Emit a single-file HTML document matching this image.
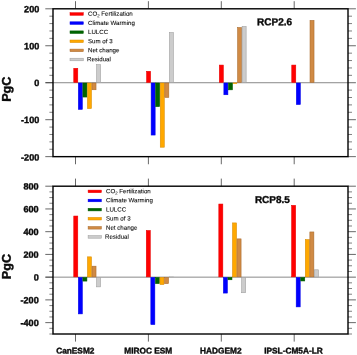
<!DOCTYPE html>
<html><head><meta charset="utf-8"><title>chart</title>
<style>
html,body{margin:0;padding:0;background:#fff;}
svg{display:block;will-change:transform;opacity:0.999;font-family:"Liberation Sans",sans-serif;}
text{fill:#0a0a0a;}
.b{stroke:#0a0a0a;stroke-width:0.38;}
.l{stroke:#0a0a0a;stroke-width:0.08;}
.b2{stroke:#0a0a0a;stroke-width:0.45;}
</style></head>
<body>
<svg width="357" height="355" viewBox="0 0 357 355">
<rect width="357" height="355" fill="#fff"/>
<line x1="45.5" x2="348.0" y1="82.72" y2="82.72" stroke="#747474" stroke-width="0.85"/>
<rect x="73.77" y="68.28" width="4.02" height="14.17" fill="#ff0000" stroke="#e80000" stroke-width="0.55"/>
<rect x="78.33" y="82.99" width="4.02" height="26.41" fill="#0000ff" stroke="#0000e8" stroke-width="0.55"/>
<rect x="82.89" y="82.99" width="4.02" height="14.06" fill="#006400" stroke="#005a00" stroke-width="0.55"/>
<rect x="87.45" y="82.99" width="4.02" height="25.59" fill="#ffa800" stroke="#d88a00" stroke-width="0.55"/>
<rect x="92.01" y="82.99" width="4.02" height="6.78" fill="#d08a44" stroke="#a86a2c" stroke-width="0.55"/>
<rect x="96.57" y="64.66" width="4.02" height="17.79" fill="#cccccc" stroke="#9c9c9c" stroke-width="0.55"/>
<rect x="146.57" y="71.28" width="4.02" height="11.18" fill="#ff0000" stroke="#e80000" stroke-width="0.55"/>
<rect x="151.13" y="82.99" width="4.02" height="52.06" fill="#0000ff" stroke="#0000e8" stroke-width="0.55"/>
<rect x="155.69" y="82.99" width="4.02" height="23.67" fill="#006400" stroke="#005a00" stroke-width="0.55"/>
<rect x="160.25" y="82.99" width="4.02" height="64.22" fill="#ffa800" stroke="#d88a00" stroke-width="0.55"/>
<rect x="164.81" y="82.99" width="4.02" height="14.43" fill="#d08a44" stroke="#a86a2c" stroke-width="0.55"/>
<rect x="169.37" y="32.58" width="4.02" height="49.88" fill="#cccccc" stroke="#9c9c9c" stroke-width="0.55"/>
<rect x="219.32" y="65.07" width="4.02" height="17.39" fill="#ff0000" stroke="#e80000" stroke-width="0.55"/>
<rect x="223.88" y="82.99" width="4.02" height="11.77" fill="#0000ff" stroke="#0000e8" stroke-width="0.55"/>
<rect x="228.44" y="82.99" width="4.02" height="6.85" fill="#006400" stroke="#005a00" stroke-width="0.55"/>
<rect x="233.00" y="82.72" width="4.02" height="1.11" fill="#ffa800" stroke="#d88a00" stroke-width="0.2"/>
<rect x="237.56" y="27.48" width="4.02" height="54.98" fill="#d08a44" stroke="#a86a2c" stroke-width="0.55"/>
<rect x="242.12" y="26.48" width="4.02" height="55.98" fill="#cccccc" stroke="#9c9c9c" stroke-width="0.55"/>
<rect x="291.77" y="65.07" width="4.02" height="17.39" fill="#ff0000" stroke="#e80000" stroke-width="0.55"/>
<rect x="296.33" y="82.99" width="4.02" height="21.56" fill="#0000ff" stroke="#0000e8" stroke-width="0.55"/>
<rect x="310.01" y="20.38" width="4.02" height="62.07" fill="#d08a44" stroke="#a86a2c" stroke-width="0.55"/>
<line x1="45.3" x2="53.0" y1="8.80" y2="8.80" stroke="#000" stroke-width="0.6"/>
<line x1="348.0" x2="355.9" y1="8.80" y2="8.80" stroke="#000" stroke-width="0.6"/>
<text x="39.30" y="12.20" transform="rotate(0.03 39.30 12.20)" font-size="9.1" font-weight="bold" text-anchor="end" class="b">200</text>
<line x1="49.4" x2="53.0" y1="16.19" y2="16.19" stroke="#000" stroke-width="0.5"/>
<line x1="348.0" x2="352" y1="16.19" y2="16.19" stroke="#000" stroke-width="0.5"/>
<line x1="49.4" x2="53.0" y1="23.59" y2="23.59" stroke="#000" stroke-width="0.5"/>
<line x1="348.0" x2="352" y1="23.59" y2="23.59" stroke="#000" stroke-width="0.5"/>
<line x1="49.4" x2="53.0" y1="30.98" y2="30.98" stroke="#000" stroke-width="0.5"/>
<line x1="348.0" x2="352" y1="30.98" y2="30.98" stroke="#000" stroke-width="0.5"/>
<line x1="49.4" x2="53.0" y1="38.37" y2="38.37" stroke="#000" stroke-width="0.5"/>
<line x1="348.0" x2="352" y1="38.37" y2="38.37" stroke="#000" stroke-width="0.5"/>
<line x1="45.3" x2="53.0" y1="45.76" y2="45.76" stroke="#000" stroke-width="0.6"/>
<line x1="348.0" x2="355.9" y1="45.76" y2="45.76" stroke="#000" stroke-width="0.6"/>
<text x="39.30" y="49.16" transform="rotate(0.03 39.30 49.16)" font-size="9.1" font-weight="bold" text-anchor="end" class="b">100</text>
<line x1="49.4" x2="53.0" y1="53.16" y2="53.16" stroke="#000" stroke-width="0.5"/>
<line x1="348.0" x2="352" y1="53.16" y2="53.16" stroke="#000" stroke-width="0.5"/>
<line x1="49.4" x2="53.0" y1="60.55" y2="60.55" stroke="#000" stroke-width="0.5"/>
<line x1="348.0" x2="352" y1="60.55" y2="60.55" stroke="#000" stroke-width="0.5"/>
<line x1="49.4" x2="53.0" y1="67.94" y2="67.94" stroke="#000" stroke-width="0.5"/>
<line x1="348.0" x2="352" y1="67.94" y2="67.94" stroke="#000" stroke-width="0.5"/>
<line x1="49.4" x2="53.0" y1="75.33" y2="75.33" stroke="#000" stroke-width="0.5"/>
<line x1="348.0" x2="352" y1="75.33" y2="75.33" stroke="#000" stroke-width="0.5"/>
<line x1="45.3" x2="53.0" y1="82.72" y2="82.72" stroke="#000" stroke-width="0.6"/>
<line x1="348.0" x2="355.9" y1="82.72" y2="82.72" stroke="#000" stroke-width="0.6"/>
<text x="39.30" y="86.12" transform="rotate(0.03 39.30 86.12)" font-size="9.1" font-weight="bold" text-anchor="end" class="b">0</text>
<line x1="49.4" x2="53.0" y1="90.12" y2="90.12" stroke="#000" stroke-width="0.5"/>
<line x1="348.0" x2="352" y1="90.12" y2="90.12" stroke="#000" stroke-width="0.5"/>
<line x1="49.4" x2="53.0" y1="97.51" y2="97.51" stroke="#000" stroke-width="0.5"/>
<line x1="348.0" x2="352" y1="97.51" y2="97.51" stroke="#000" stroke-width="0.5"/>
<line x1="49.4" x2="53.0" y1="104.90" y2="104.90" stroke="#000" stroke-width="0.5"/>
<line x1="348.0" x2="352" y1="104.90" y2="104.90" stroke="#000" stroke-width="0.5"/>
<line x1="49.4" x2="53.0" y1="112.29" y2="112.29" stroke="#000" stroke-width="0.5"/>
<line x1="348.0" x2="352" y1="112.29" y2="112.29" stroke="#000" stroke-width="0.5"/>
<line x1="45.3" x2="53.0" y1="119.69" y2="119.69" stroke="#000" stroke-width="0.6"/>
<line x1="348.0" x2="355.9" y1="119.69" y2="119.69" stroke="#000" stroke-width="0.6"/>
<text x="39.30" y="123.09" transform="rotate(0.03 39.30 123.09)" font-size="9.1" font-weight="bold" text-anchor="end" class="b">-100</text>
<line x1="49.4" x2="53.0" y1="127.08" y2="127.08" stroke="#000" stroke-width="0.5"/>
<line x1="348.0" x2="352" y1="127.08" y2="127.08" stroke="#000" stroke-width="0.5"/>
<line x1="49.4" x2="53.0" y1="134.47" y2="134.47" stroke="#000" stroke-width="0.5"/>
<line x1="348.0" x2="352" y1="134.47" y2="134.47" stroke="#000" stroke-width="0.5"/>
<line x1="49.4" x2="53.0" y1="141.87" y2="141.87" stroke="#000" stroke-width="0.5"/>
<line x1="348.0" x2="352" y1="141.87" y2="141.87" stroke="#000" stroke-width="0.5"/>
<line x1="49.4" x2="53.0" y1="149.26" y2="149.26" stroke="#000" stroke-width="0.5"/>
<line x1="348.0" x2="352" y1="149.26" y2="149.26" stroke="#000" stroke-width="0.5"/>
<line x1="45.3" x2="53.0" y1="156.65" y2="156.65" stroke="#000" stroke-width="0.6"/>
<line x1="348.0" x2="355.9" y1="156.65" y2="156.65" stroke="#000" stroke-width="0.6"/>
<text x="39.30" y="160.45" transform="rotate(0.03 39.30 160.45)" font-size="9.1" font-weight="bold" text-anchor="end" class="b">-200</text>
<line x1="75.5" x2="75.5" y1="1.20" y2="8.80" stroke="#000" stroke-width="0.6"/>
<line x1="75.5" x2="75.5" y1="156.65" y2="164.25" stroke="#000" stroke-width="0.6"/>
<line x1="148.4" x2="148.4" y1="1.20" y2="8.80" stroke="#000" stroke-width="0.6"/>
<line x1="148.4" x2="148.4" y1="156.65" y2="164.25" stroke="#000" stroke-width="0.6"/>
<line x1="221.3" x2="221.3" y1="1.20" y2="8.80" stroke="#000" stroke-width="0.6"/>
<line x1="221.3" x2="221.3" y1="156.65" y2="164.25" stroke="#000" stroke-width="0.6"/>
<line x1="294.2" x2="294.2" y1="1.20" y2="8.80" stroke="#000" stroke-width="0.6"/>
<line x1="294.2" x2="294.2" y1="156.65" y2="164.25" stroke="#000" stroke-width="0.6"/>
<rect x="53.0" y="8.8" width="295.0" height="147.85" fill="none" stroke="#000" stroke-width="1.4"/>
<text x="257.10" y="25.35" transform="rotate(0.03 257.10 25.35)" font-size="10" font-weight="bold" class="b">RCP2.6</text>
<rect x="70.0" y="12.70" width="13.3" height="2.6" fill="#ff0000" stroke="#e80000" stroke-width="0.5"/>
<text x="88.00" y="15.85" transform="rotate(0.03 88.00 15.85)" font-size="6.15" class="l">CO<tspan font-size="4.3" dy="1.3">2</tspan><tspan dy="-1.3"> Fertilization</tspan></text>
<rect x="70.0" y="21.80" width="13.3" height="2.6" fill="#0000ff" stroke="#0000e8" stroke-width="0.5"/>
<text x="88.00" y="24.95" transform="rotate(0.03 88.00 24.95)" font-size="6.15" class="l">Climate Warming</text>
<rect x="70.0" y="30.90" width="13.3" height="2.6" fill="#006400" stroke="#005a00" stroke-width="0.5"/>
<text x="88.00" y="34.05" transform="rotate(0.03 88.00 34.05)" font-size="6.15" class="l">LULCC</text>
<rect x="70.0" y="40.00" width="13.3" height="2.6" fill="#ffa800" stroke="#d88a00" stroke-width="0.5"/>
<text x="88.00" y="43.15" transform="rotate(0.03 88.00 43.15)" font-size="6.15" class="l">Sum of 3</text>
<rect x="70.0" y="49.10" width="13.3" height="2.6" fill="#d08a44" stroke="#a86a2c" stroke-width="0.5"/>
<text x="88.00" y="52.25" transform="rotate(0.03 88.00 52.25)" font-size="6.15" class="l">Net change</text>
<rect x="70.0" y="58.20" width="13.3" height="2.6" fill="#cccccc" stroke="#9c9c9c" stroke-width="0.5"/>
<text x="87.00" y="61.35" transform="rotate(0.03 87.00 61.35)" font-size="6.15" class="l">Residual</text>
<text transform="translate(10.8,101.83) rotate(-89.97)" font-size="12.6" font-weight="bold" class="b2">PgC</text>
<line x1="45.5" x2="348.0" y1="277.15" y2="277.15" stroke="#747474" stroke-width="0.85"/>
<rect x="73.77" y="216.03" width="4.02" height="60.85" fill="#ff0000" stroke="#e80000" stroke-width="0.55"/>
<rect x="78.33" y="277.42" width="4.02" height="36.47" fill="#0000ff" stroke="#0000e8" stroke-width="0.55"/>
<rect x="82.89" y="277.42" width="4.02" height="3.67" fill="#006400" stroke="#005a00" stroke-width="0.55"/>
<rect x="87.45" y="256.85" width="4.02" height="20.04" fill="#ffa800" stroke="#d88a00" stroke-width="0.55"/>
<rect x="92.01" y="266.17" width="4.02" height="10.72" fill="#d08a44" stroke="#a86a2c" stroke-width="0.55"/>
<rect x="96.57" y="277.42" width="4.02" height="9.46" fill="#cccccc" stroke="#9c9c9c" stroke-width="0.55"/>
<rect x="146.27" y="230.47" width="4.02" height="46.41" fill="#ff0000" stroke="#e80000" stroke-width="0.55"/>
<rect x="150.83" y="277.42" width="4.02" height="47.15" fill="#0000ff" stroke="#0000e8" stroke-width="0.55"/>
<rect x="155.39" y="277.42" width="4.02" height="6.22" fill="#006400" stroke="#005a00" stroke-width="0.55"/>
<rect x="159.95" y="277.42" width="4.02" height="7.13" fill="#ffa800" stroke="#d88a00" stroke-width="0.55"/>
<rect x="164.51" y="277.42" width="4.02" height="6.22" fill="#d08a44" stroke="#a86a2c" stroke-width="0.55"/>
<rect x="169.07" y="276.59" width="4.02" height="0.57" fill="#cccccc" stroke="#9c9c9c" stroke-width="0.2"/>
<rect x="218.82" y="204.04" width="4.02" height="72.85" fill="#ff0000" stroke="#e80000" stroke-width="0.55"/>
<rect x="223.38" y="277.42" width="4.02" height="15.66" fill="#0000ff" stroke="#0000e8" stroke-width="0.55"/>
<rect x="227.94" y="277.42" width="4.02" height="2.36" fill="#006400" stroke="#005a00" stroke-width="0.55"/>
<rect x="232.50" y="222.91" width="4.02" height="53.98" fill="#ffa800" stroke="#d88a00" stroke-width="0.55"/>
<rect x="237.06" y="238.88" width="4.02" height="38.00" fill="#d08a44" stroke="#a86a2c" stroke-width="0.55"/>
<rect x="241.62" y="277.42" width="4.02" height="15.32" fill="#cccccc" stroke="#9c9c9c" stroke-width="0.55"/>
<rect x="291.62" y="205.34" width="4.02" height="71.54" fill="#ff0000" stroke="#e80000" stroke-width="0.55"/>
<rect x="296.18" y="277.42" width="4.02" height="29.47" fill="#0000ff" stroke="#0000e8" stroke-width="0.55"/>
<rect x="300.74" y="277.42" width="4.02" height="3.55" fill="#006400" stroke="#005a00" stroke-width="0.55"/>
<rect x="305.30" y="239.56" width="4.02" height="37.32" fill="#ffa800" stroke="#d88a00" stroke-width="0.55"/>
<rect x="309.86" y="231.95" width="4.02" height="44.94" fill="#d08a44" stroke="#a86a2c" stroke-width="0.55"/>
<rect x="314.42" y="269.81" width="4.02" height="7.08" fill="#cccccc" stroke="#9c9c9c" stroke-width="0.55"/>
<line x1="45.3" x2="53.0" y1="186.20" y2="186.20" stroke="#000" stroke-width="0.6"/>
<line x1="348.0" x2="355.9" y1="186.20" y2="186.20" stroke="#000" stroke-width="0.6"/>
<text x="38.70" y="189.60" transform="rotate(0.03 38.70 189.60)" font-size="9.1" font-weight="bold" text-anchor="end" class="b">800</text>
<line x1="49.4" x2="53.0" y1="191.88" y2="191.88" stroke="#000" stroke-width="0.5"/>
<line x1="348.0" x2="352" y1="191.88" y2="191.88" stroke="#000" stroke-width="0.5"/>
<line x1="49.4" x2="53.0" y1="197.57" y2="197.57" stroke="#000" stroke-width="0.5"/>
<line x1="348.0" x2="352" y1="197.57" y2="197.57" stroke="#000" stroke-width="0.5"/>
<line x1="49.4" x2="53.0" y1="203.25" y2="203.25" stroke="#000" stroke-width="0.5"/>
<line x1="348.0" x2="352" y1="203.25" y2="203.25" stroke="#000" stroke-width="0.5"/>
<line x1="45.3" x2="53.0" y1="208.94" y2="208.94" stroke="#000" stroke-width="0.6"/>
<line x1="348.0" x2="355.9" y1="208.94" y2="208.94" stroke="#000" stroke-width="0.6"/>
<text x="38.70" y="212.34" transform="rotate(0.03 38.70 212.34)" font-size="9.1" font-weight="bold" text-anchor="end" class="b">600</text>
<line x1="49.4" x2="53.0" y1="214.62" y2="214.62" stroke="#000" stroke-width="0.5"/>
<line x1="348.0" x2="352" y1="214.62" y2="214.62" stroke="#000" stroke-width="0.5"/>
<line x1="49.4" x2="53.0" y1="220.31" y2="220.31" stroke="#000" stroke-width="0.5"/>
<line x1="348.0" x2="352" y1="220.31" y2="220.31" stroke="#000" stroke-width="0.5"/>
<line x1="49.4" x2="53.0" y1="225.99" y2="225.99" stroke="#000" stroke-width="0.5"/>
<line x1="348.0" x2="352" y1="225.99" y2="225.99" stroke="#000" stroke-width="0.5"/>
<line x1="45.3" x2="53.0" y1="231.68" y2="231.68" stroke="#000" stroke-width="0.6"/>
<line x1="348.0" x2="355.9" y1="231.68" y2="231.68" stroke="#000" stroke-width="0.6"/>
<text x="38.70" y="235.08" transform="rotate(0.03 38.70 235.08)" font-size="9.1" font-weight="bold" text-anchor="end" class="b">400</text>
<line x1="49.4" x2="53.0" y1="237.36" y2="237.36" stroke="#000" stroke-width="0.5"/>
<line x1="348.0" x2="352" y1="237.36" y2="237.36" stroke="#000" stroke-width="0.5"/>
<line x1="49.4" x2="53.0" y1="243.05" y2="243.05" stroke="#000" stroke-width="0.5"/>
<line x1="348.0" x2="352" y1="243.05" y2="243.05" stroke="#000" stroke-width="0.5"/>
<line x1="49.4" x2="53.0" y1="248.73" y2="248.73" stroke="#000" stroke-width="0.5"/>
<line x1="348.0" x2="352" y1="248.73" y2="248.73" stroke="#000" stroke-width="0.5"/>
<line x1="45.3" x2="53.0" y1="254.42" y2="254.42" stroke="#000" stroke-width="0.6"/>
<line x1="348.0" x2="355.9" y1="254.42" y2="254.42" stroke="#000" stroke-width="0.6"/>
<text x="38.70" y="257.82" transform="rotate(0.03 38.70 257.82)" font-size="9.1" font-weight="bold" text-anchor="end" class="b">200</text>
<line x1="49.4" x2="53.0" y1="260.10" y2="260.10" stroke="#000" stroke-width="0.5"/>
<line x1="348.0" x2="352" y1="260.10" y2="260.10" stroke="#000" stroke-width="0.5"/>
<line x1="49.4" x2="53.0" y1="265.78" y2="265.78" stroke="#000" stroke-width="0.5"/>
<line x1="348.0" x2="352" y1="265.78" y2="265.78" stroke="#000" stroke-width="0.5"/>
<line x1="49.4" x2="53.0" y1="271.47" y2="271.47" stroke="#000" stroke-width="0.5"/>
<line x1="348.0" x2="352" y1="271.47" y2="271.47" stroke="#000" stroke-width="0.5"/>
<line x1="45.3" x2="53.0" y1="277.15" y2="277.15" stroke="#000" stroke-width="0.6"/>
<line x1="348.0" x2="355.9" y1="277.15" y2="277.15" stroke="#000" stroke-width="0.6"/>
<text x="38.70" y="280.55" transform="rotate(0.03 38.70 280.55)" font-size="9.1" font-weight="bold" text-anchor="end" class="b">0</text>
<line x1="49.4" x2="53.0" y1="282.84" y2="282.84" stroke="#000" stroke-width="0.5"/>
<line x1="348.0" x2="352" y1="282.84" y2="282.84" stroke="#000" stroke-width="0.5"/>
<line x1="49.4" x2="53.0" y1="288.52" y2="288.52" stroke="#000" stroke-width="0.5"/>
<line x1="348.0" x2="352" y1="288.52" y2="288.52" stroke="#000" stroke-width="0.5"/>
<line x1="49.4" x2="53.0" y1="294.21" y2="294.21" stroke="#000" stroke-width="0.5"/>
<line x1="348.0" x2="352" y1="294.21" y2="294.21" stroke="#000" stroke-width="0.5"/>
<line x1="45.3" x2="53.0" y1="299.89" y2="299.89" stroke="#000" stroke-width="0.6"/>
<line x1="348.0" x2="355.9" y1="299.89" y2="299.89" stroke="#000" stroke-width="0.6"/>
<text x="38.70" y="303.29" transform="rotate(0.03 38.70 303.29)" font-size="9.1" font-weight="bold" text-anchor="end" class="b">-200</text>
<line x1="49.4" x2="53.0" y1="305.58" y2="305.58" stroke="#000" stroke-width="0.5"/>
<line x1="348.0" x2="352" y1="305.58" y2="305.58" stroke="#000" stroke-width="0.5"/>
<line x1="49.4" x2="53.0" y1="311.26" y2="311.26" stroke="#000" stroke-width="0.5"/>
<line x1="348.0" x2="352" y1="311.26" y2="311.26" stroke="#000" stroke-width="0.5"/>
<line x1="49.4" x2="53.0" y1="316.95" y2="316.95" stroke="#000" stroke-width="0.5"/>
<line x1="348.0" x2="352" y1="316.95" y2="316.95" stroke="#000" stroke-width="0.5"/>
<line x1="45.3" x2="53.0" y1="322.63" y2="322.63" stroke="#000" stroke-width="0.6"/>
<line x1="348.0" x2="355.9" y1="322.63" y2="322.63" stroke="#000" stroke-width="0.6"/>
<text x="38.70" y="326.03" transform="rotate(0.03 38.70 326.03)" font-size="9.1" font-weight="bold" text-anchor="end" class="b">-400</text>
<line x1="49.4" x2="53.0" y1="328.32" y2="328.32" stroke="#000" stroke-width="0.5"/>
<line x1="348.0" x2="352" y1="328.32" y2="328.32" stroke="#000" stroke-width="0.5"/>
<line x1="49.4" x2="53.0" y1="334.00" y2="334.00" stroke="#000" stroke-width="0.5"/>
<line x1="348.0" x2="352" y1="334.00" y2="334.00" stroke="#000" stroke-width="0.5"/>
<line x1="75.5" x2="75.5" y1="178.60" y2="186.20" stroke="#000" stroke-width="0.6"/>
<line x1="75.5" x2="75.5" y1="334.00" y2="341.60" stroke="#000" stroke-width="0.6"/>
<line x1="148.4" x2="148.4" y1="178.60" y2="186.20" stroke="#000" stroke-width="0.6"/>
<line x1="148.4" x2="148.4" y1="334.00" y2="341.60" stroke="#000" stroke-width="0.6"/>
<line x1="221.3" x2="221.3" y1="178.60" y2="186.20" stroke="#000" stroke-width="0.6"/>
<line x1="221.3" x2="221.3" y1="334.00" y2="341.60" stroke="#000" stroke-width="0.6"/>
<line x1="294.2" x2="294.2" y1="178.60" y2="186.20" stroke="#000" stroke-width="0.6"/>
<line x1="294.2" x2="294.2" y1="334.00" y2="341.60" stroke="#000" stroke-width="0.6"/>
<rect x="53.0" y="186.2" width="295.0" height="147.8" fill="none" stroke="#000" stroke-width="1.4"/>
<text x="254.90" y="203.00" transform="rotate(0.03 254.90 203.00)" font-size="10" font-weight="bold" class="b">RCP8.5</text>
<rect x="88.1" y="190.10" width="13.3" height="2.6" fill="#ff0000" stroke="#e80000" stroke-width="0.5"/>
<text x="106.00" y="193.25" transform="rotate(0.03 106.00 193.25)" font-size="6.15" class="l">CO<tspan font-size="4.3" dy="1.3">2</tspan><tspan dy="-1.3"> Fertilization</tspan></text>
<rect x="88.1" y="199.20" width="13.3" height="2.6" fill="#0000ff" stroke="#0000e8" stroke-width="0.5"/>
<text x="106.00" y="202.35" transform="rotate(0.03 106.00 202.35)" font-size="6.15" class="l">Climate Warming</text>
<rect x="88.1" y="208.30" width="13.3" height="2.6" fill="#006400" stroke="#005a00" stroke-width="0.5"/>
<text x="106.00" y="211.45" transform="rotate(0.03 106.00 211.45)" font-size="6.15" class="l">LULCC</text>
<rect x="88.1" y="217.40" width="13.3" height="2.6" fill="#ffa800" stroke="#d88a00" stroke-width="0.5"/>
<text x="106.00" y="220.55" transform="rotate(0.03 106.00 220.55)" font-size="6.15" class="l">Sum of 3</text>
<rect x="88.1" y="226.50" width="13.3" height="2.6" fill="#d08a44" stroke="#a86a2c" stroke-width="0.5"/>
<text x="106.00" y="229.65" transform="rotate(0.03 106.00 229.65)" font-size="6.15" class="l">Net change</text>
<rect x="88.1" y="235.60" width="13.3" height="2.6" fill="#cccccc" stroke="#9c9c9c" stroke-width="0.5"/>
<text x="105.00" y="238.75" transform="rotate(0.03 105.00 238.75)" font-size="6.15" class="l">Residual</text>
<text transform="translate(10.8,279.20) rotate(-89.97)" font-size="12.6" font-weight="bold" class="b2">PgC</text>
<text x="75.30" y="353.60" transform="rotate(0.03 75.30 353.60)" font-size="8.3" font-weight="bold" text-anchor="middle" class="b">CanESM2</text>
<text x="148.20" y="353.60" transform="rotate(0.03 148.20 353.60)" font-size="8.3" font-weight="bold" text-anchor="middle" class="b">MIROC ESM</text>
<text x="220.85" y="353.60" transform="rotate(0.03 220.85 353.60)" font-size="8.3" font-weight="bold" text-anchor="middle" class="b">HADGEM2</text>
<text x="293.50" y="353.60" transform="rotate(0.03 293.50 353.60)" font-size="8.3" font-weight="bold" text-anchor="middle" class="b">IPSL-CM5A-LR</text>
</svg>
</body></html>
